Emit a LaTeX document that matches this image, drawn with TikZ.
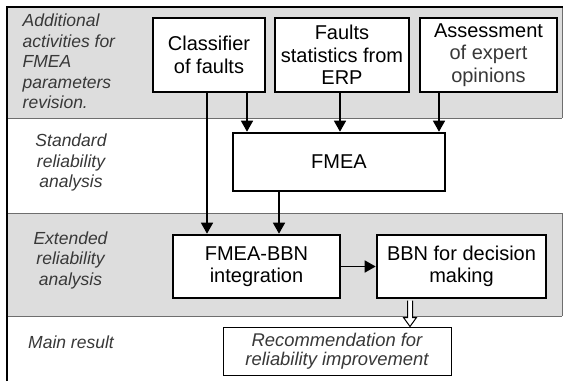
\documentclass[tikz,border=0pt]{standalone}
\usepackage{fontspec}
\setmainfont{Liberation Sans}
\usetikzlibrary{arrows.meta,calc}
\definecolor{bandgray}{RGB}{221,221,221}
\definecolor{linegray}{RGB}{110,110,110}
\definecolor{labgray}{RGB}{56,56,56}
\tikzset{
  box/.style={draw=black, fill=white, line width=2.6pt, align=center, inner sep=0pt,
    font=\fontsize{20}{22.5}\selectfont},
  recbox/.style={draw=black, fill=white, line width=1pt, align=center, inner sep=0pt,
    text=labgray, font=\fontsize{18.4}{19.5}\selectfont\itshape},
  lab/.style={text=labgray, font=\fontsize{17.5}{20.5}\selectfont\itshape, inner sep=0pt},
  conn/.style={line width=1.5pt, -{Triangle[length=11pt,width=12pt]}},
}
\begin{document}
\begin{tikzpicture}[x=1pt,y=-1pt]
\useasboundingbox (0,0) rectangle (563,381);
% bands
\fill[bandgray] (7,8) rectangle (562,118);
\fill[bandgray] (7,213) rectangle (562,316);
\draw[linegray, line width=0.9pt] (7,118) -- (562,118);
\draw[linegray, line width=0.9pt] (7,213) -- (562,213);
\draw[linegray, line width=0.9pt] (7,316) -- (562,316);
\draw[linegray, line width=0.9pt] (562,8) -- (562,118);
\draw[linegray, line width=0.9pt] (562,213) -- (562,316);
\draw[black, line width=2pt] (7,381) -- (7,7) -- (563,7);
% left labels
\node[lab, align=left, anchor=north west] (l1) at (22.5,14) {Additional\\activities for\\FMEA\\parameters\\revision.};
\node[lab, align=center] (l2) at (71,162.5) {Standard\\reliability\\analysis};
\node[lab, align=center] (l3) at (70.5,260) {Extended\\reliability\\analysis};
\node[lab] (l4) at (71,342) {Main result};
% boxes
\node[box, minimum width=112pt, minimum height=74pt] (cls) at (209,55) {Classifier\\of faults};
\node[box, minimum width=134pt, minimum height=74pt] (erp) at (342,55) {Faults\\statistics from\\ERP};
\node[box, minimum width=137pt, minimum height=74pt] (exp) at (488.5,55) {Assessment\\\textcolor{labgray}{of expert}\\\textcolor{labgray}{opinions}};
\node[box, minimum width=212pt, minimum height=58pt] (fmea) at (339,162) {FMEA};
\node[box, minimum width=167pt, minimum height=63pt] (fbbn) at (256.5,266.5) {FMEA-BBN\\integration};
\node[box, minimum width=169pt, minimum height=63pt] (bbn) at (461.5,266.5) {BBN for decision\\making};
\node[recbox, minimum width=228pt, minimum height=48pt] (rec) at (337,351) {Recommendation for\\reliability improvement};
% connectors
\draw[conn] ([xshift=38pt]cls.south) -- ([xshift=38pt]cls.south |- fmea.north);
\draw[conn] ([xshift=-2pt]cls.south) -- ([xshift=-2pt]cls.south |- fbbn.north);
\draw[conn] ([xshift=-2pt]erp.south) -- ([xshift=-2pt]erp.south |- fmea.north);
\draw[conn] ([xshift=-49.5pt]exp.south) -- ([xshift=-49.5pt]exp.south |- fmea.north);
\draw[conn] ([xshift=-60pt]fmea.south) -- ([xshift=-60pt]fmea.south |- fbbn.north);
\draw[conn] (fbbn.east) -- (bbn.west);
% hollow arrow
\coordinate (hx) at (410,0);
\coordinate (ha) at (bbn.south -| hx);
\coordinate (hb) at (rec.north -| hx);
\draw[fill=white, line width=1pt]
  ($(ha)+(-2.5,1.3)$) -- ($(hb)+(-2.5,-9)$) -- ($(hb)+(-6.5,-9)$) -- ($(hb)+(0,0)$)
  -- ($(hb)+(6.5,-9)$) -- ($(hb)+(2.5,-9)$) -- ($(ha)+(2.5,1.3)$);
\end{tikzpicture}
\end{document}
